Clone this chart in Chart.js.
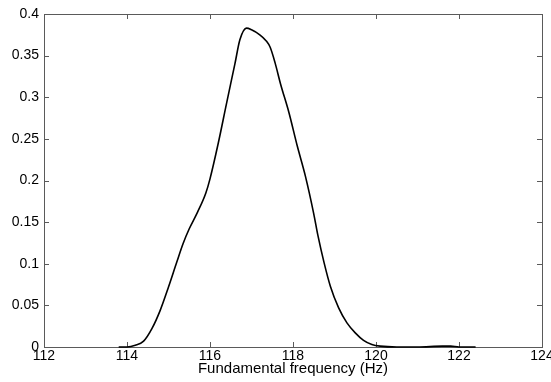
<!DOCTYPE html>
<html>
<head>
<meta charset="utf-8">
<script src="https://cdn.jsdelivr.net/npm/chart.js@4.4.1/dist/chart.umd.min.js"></script>
<style>
  html, body { margin: 0; padding: 0; background: #fff; }
  #wrap { width: 551px; height: 382px; }
</style>
</head>
<body>
<div id="wrap"><canvas id="chart"></canvas></div>
<script>
// density estimate
const freqHz = [113.8, 114.0, 114.2, 114.4, 114.6, 114.8, 115.0, 115.2, 115.35, 115.5,
  115.7, 115.9, 116.0, 116.2, 116.4, 116.6, 116.72, 116.88, 117.0, 117.2,
  117.35, 117.45, 117.57, 117.7, 117.9, 118.1, 118.3, 118.5, 118.6, 118.75,
  118.9, 119.1, 119.3, 119.5, 119.7, 119.9, 120.1, 120.5, 121.0, 121.6,
  121.8, 122.0, 122.4];
const density = [0, 0, 0.002, 0.007, 0.022, 0.044, 0.072, 0.102, 0.124, 0.142,
  0.162, 0.185, 0.202, 0.245, 0.293, 0.340, 0.369, 0.383, 0.381, 0.375,
  0.368, 0.360, 0.341, 0.316, 0.282, 0.242, 0.205, 0.160, 0.134, 0.101,
  0.073, 0.047, 0.029, 0.017, 0.008, 0.003, 0.001, 0, 0, 0.001,
  0.001, 0, 0];

const xTicks = [112, 114, 116, 118, 120, 122, 124];
const yTicks = [0, 0.05, 0.1, 0.15, 0.2, 0.25, 0.3, 0.35, 0.4];

const axisColor = '#5a5a5a';
const font = 'Liberation Sans, Arial, sans-serif';

// matlab style box with inward ticks on all four sides
const boxPlugin = {
  id: 'box',
  beforeDatasetsDraw(chart) {
    const { ctx, chartArea: a, scales } = chart;
    const len = 5;
    ctx.save();
    ctx.strokeStyle = axisColor;
    ctx.lineWidth = 1;
    ctx.beginPath();
    xTicks.forEach(v => {
      const px = Math.round(scales.x.getPixelForValue(v)) + 0.5;
      ctx.moveTo(px, a.bottom); ctx.lineTo(px, a.bottom - len);
      ctx.moveTo(px, a.top); ctx.lineTo(px, a.top + len);
    });
    yTicks.forEach(v => {
      const py = Math.round(scales.y.getPixelForValue(v)) + 0.5;
      ctx.moveTo(a.left, py); ctx.lineTo(a.left + len, py);
      ctx.moveTo(a.right, py); ctx.lineTo(a.right - len, py);
    });
    ctx.stroke();
    ctx.strokeRect(Math.round(a.left) + 0.5, Math.round(a.top) + 0.5,
      Math.round(a.right - a.left), Math.round(a.bottom - a.top));
    ctx.restore();
  }
};

new Chart(document.getElementById('chart'), {
  type: 'line',
  data: {
    datasets: [{
      data: freqHz.map((x, i) => ({ x: x, y: density[i] })),
      borderColor: '#000',
      borderWidth: 1.6,
      pointRadius: 0,
      cubicInterpolationMode: 'monotone',
      clip: false
    }]
  },
  options: {
    responsive: true,
    maintainAspectRatio: false,
    animation: false,
    layout: { padding: { top: 14, right: 9, left: 0, bottom: 0 } },
    plugins: { legend: { display: false }, tooltip: { enabled: false } },
    scales: {
      x: {
        type: 'linear',
        min: 112, max: 124,
        afterBuildTicks: s => { s.ticks = xTicks.map(v => ({ value: v })); },
        afterFit: s => { s.height = 35; s.paddingLeft = 0; s.paddingRight = 0; },
        grid: { display: false, drawTicks: false },
        border: { display: false },
        ticks: { color: '#000', font: { family: font, size: 14 }, padding: 1, maxRotation: 0 },
        title: {
          display: true,
          text: 'Fundamental frequency (Hz)',
          color: '#000',
          font: { family: font, size: 15 },
          padding: { top: 0, bottom: 4 }
        }
      },
      y: {
        min: 0, max: 0.4,
        afterBuildTicks: s => { s.ticks = yTicks.map(v => ({ value: v })); },
        afterFit: s => { s.width = 44; s.paddingTop = 0; s.paddingBottom = 0; },
        grid: { display: false, drawTicks: false },
        border: { display: false },
        ticks: {
          color: '#000',
          font: { family: font, size: 14 },
          padding: 5,
          callback: v => String(+v.toFixed(2))
        }
      }
    }
  },
  plugins: [boxPlugin]
});
</script>
</body>
</html>
